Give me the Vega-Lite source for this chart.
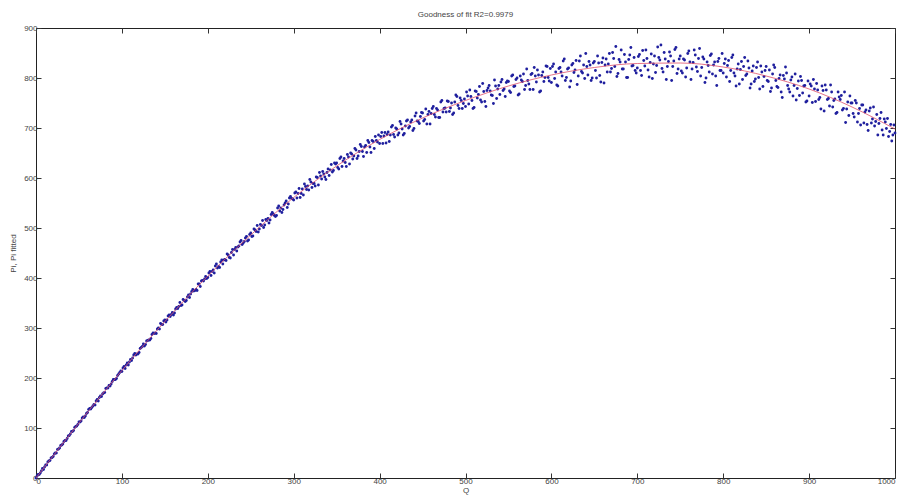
{
  "$schema": "https://vega.github.io/schema/vega-lite/v6.json",
  "autosize": "none",
  "width": 859,
  "height": 450,
  "padding": {"left": 36, "top": 28, "right": 3, "bottom": 20},
  "background": "white",
  "title": {"text": "Goodness of fit R2=0.9979", "fontSize": 8, "font": "Liberation Sans", "fontWeight": "normal", "color": "#444", "offset": 5},
  "datasets": {
    "pts": [
      {"q":0,"p":0},{"q":2.5,"p":7},{"q":5,"p":10},{"q":7.5,"p":19},{"q":10,"p":22},{"q":12.5,"p":26},{"q":15,"p":34},{"q":17.5,"p":40},{"q":20,"p":43},{"q":22.5,"p":50},
      {"q":25,"p":57},{"q":27.5,"p":60},{"q":30,"p":66},{"q":32.5,"p":73},{"q":35,"p":75},{"q":37.5,"p":84},{"q":40,"p":88},{"q":42.5,"p":93},{"q":45,"p":101},{"q":47.5,"p":104},
      {"q":50,"p":112},{"q":52.5,"p":114},{"q":55,"p":122},{"q":57.5,"p":124},{"q":60,"p":131},{"q":62.5,"p":139},{"q":65,"p":141},{"q":67.5,"p":147},{"q":70,"p":154},{"q":72.5,"p":154},
      {"q":75,"p":164},{"q":77.5,"p":168},{"q":80,"p":171},{"q":82.5,"p":180},{"q":85,"p":185},{"q":87.5,"p":188},{"q":90,"p":197},{"q":92.5,"p":197},{"q":95,"p":205},{"q":97.5,"p":211},
      {"q":100,"p":213},{"q":102.5,"p":223},{"q":105,"p":226},{"q":107.5,"p":226},{"q":110,"p":237},{"q":112.5,"p":240},{"q":115,"p":249},{"q":117.5,"p":248},{"q":120,"p":251},{"q":122.5,"p":261},
      {"q":125,"p":268},{"q":127.5,"p":267},{"q":130,"p":275},{"q":132.5,"p":276},{"q":135,"p":287},{"q":137.5,"p":289},{"q":140,"p":289},{"q":142.5,"p":300},{"q":145,"p":309},{"q":147.5,"p":307},
      {"q":150,"p":316},{"q":152.5,"p":316},{"q":155,"p":326},{"q":157.5,"p":327},{"q":160,"p":326},{"q":162.5,"p":338},{"q":165,"p":339},{"q":167.5,"p":351},{"q":170,"p":346},{"q":172.5,"p":355},
      {"q":175,"p":355},{"q":177.5,"p":366},{"q":180,"p":368},{"q":182.5,"p":377},{"q":185,"p":375},{"q":187.5,"p":375},{"q":190,"p":388},{"q":192.5,"p":394},{"q":195,"p":394},{"q":197.5,"p":403},
      {"q":200,"p":401},{"q":202.5,"p":413},{"q":205,"p":413},{"q":207.5,"p":410},{"q":210,"p":428},{"q":212.5,"p":423},{"q":215,"p":432},{"q":217.5,"p":428},{"q":220,"p":437},{"q":222.5,"p":448},
      {"q":225,"p":441},{"q":227.5,"p":451},{"q":230,"p":446},{"q":232.5,"p":461},{"q":235,"p":462},{"q":237.5,"p":472},{"q":240,"p":467},{"q":242.5,"p":473},{"q":245,"p":483},{"q":247.5,"p":476},
      {"q":250,"p":490},{"q":252.5,"p":484},{"q":255,"p":496},{"q":257.5,"p":505},{"q":260,"p":498},{"q":262.5,"p":505},{"q":265,"p":501},{"q":267.5,"p":517},{"q":270,"p":519},{"q":272.5,"p":516},
      {"q":275,"p":531},{"q":277.5,"p":525},{"q":280,"p":525},{"q":282.5,"p":544},{"q":285,"p":540},{"q":287.5,"p":537},{"q":290,"p":550},{"q":292.5,"p":541},{"q":295,"p":560},{"q":297.5,"p":559},
      {"q":300,"p":556},{"q":302.5,"p":572},{"q":305,"p":569},{"q":307.5,"p":561},{"q":310,"p":578},{"q":312.5,"p":588},{"q":315,"p":577},{"q":317.5,"p":576},{"q":320,"p":592},{"q":322.5,"p":589},
      {"q":325,"p":584},{"q":327.5,"p":601},{"q":330,"p":611},{"q":332.5,"p":598},{"q":335,"p":608},{"q":337.5,"p":597},{"q":340,"p":618},{"q":342.5,"p":616},{"q":345,"p":612},{"q":347.5,"p":630},
      {"q":350,"p":630},{"q":352.5,"p":618},{"q":355,"p":642},{"q":357.5,"p":634},{"q":360,"p":631},{"q":362.5,"p":647},{"q":365,"p":628},{"q":367.5,"p":648},{"q":370,"p":644},{"q":372.5,"p":656},
      {"q":375,"p":644},{"q":377.5,"p":667},{"q":380,"p":653},{"q":382.5,"p":662},{"q":385,"p":651},{"q":387.5,"p":671},{"q":390,"p":651},{"q":392.5,"p":673},{"q":395,"p":683},{"q":397.5,"p":672},
      {"q":400,"p":669},{"q":402.5,"p":691},{"q":405,"p":684},{"q":407.5,"p":670},{"q":410,"p":692},{"q":412.5,"p":686},{"q":415,"p":705},{"q":417.5,"p":682},{"q":420,"p":698},{"q":422.5,"p":690},
      {"q":425,"p":708},{"q":427.5,"p":686},{"q":430,"p":704},{"q":432.5,"p":716},{"q":435,"p":703},{"q":437.5,"p":716},{"q":440,"p":699},{"q":442.5,"p":730},{"q":445,"p":713},{"q":447.5,"p":723},
      {"q":450,"p":730},{"q":452.5,"p":717},{"q":455,"p":708},{"q":457.5,"p":733},{"q":460,"p":729},{"q":462.5,"p":743},{"q":465,"p":722},{"q":467.5,"p":736},{"q":470,"p":721},{"q":472.5,"p":755},
      {"q":475,"p":739},{"q":477.5,"p":732},{"q":480,"p":753},{"q":482.5,"p":740},{"q":485,"p":727},{"q":487.5,"p":752},{"q":490,"p":763},{"q":492.5,"p":739},{"q":495,"p":755},{"q":497.5,"p":749},
      {"q":500,"p":743},{"q":502.5,"p":764},{"q":505,"p":776},{"q":507.5,"p":755},{"q":510,"p":741},{"q":512.5,"p":773},{"q":515,"p":767},{"q":517.5,"p":756},{"q":520,"p":789},{"q":522.5,"p":753},
      {"q":525,"p":775},{"q":527.5,"p":785},{"q":530,"p":766},{"q":532.5,"p":749},{"q":535,"p":784},{"q":537.5,"p":778},{"q":540,"p":767},{"q":542.5,"p":797},{"q":545,"p":778},{"q":547.5,"p":791},
      {"q":550,"p":793},{"q":552.5,"p":771},{"q":555,"p":806},{"q":557.5,"p":784},{"q":560,"p":800},{"q":562.5,"p":768},{"q":565,"p":796},{"q":567.5,"p":808},{"q":570,"p":785},{"q":572.5,"p":795},
      {"q":575,"p":777},{"q":577.5,"p":809},{"q":580,"p":821},{"q":582.5,"p":792},{"q":585,"p":806},{"q":587.5,"p":774},{"q":590,"p":812},{"q":592.5,"p":801},{"q":595,"p":823},{"q":597.5,"p":794},
      {"q":600,"p":791},{"q":602.5,"p":828},{"q":605,"p":812},{"q":607.5,"p":784},{"q":610,"p":821},{"q":612.5,"p":804},{"q":615,"p":838},{"q":617.5,"p":801},{"q":620,"p":820},{"q":622.5,"p":794},
      {"q":625,"p":829},{"q":627.5,"p":816},{"q":630,"p":787},{"q":632.5,"p":834},{"q":635,"p":813},{"q":637.5,"p":826},{"q":640,"p":849},{"q":642.5,"p":806},{"q":645,"p":826},{"q":647.5,"p":800},
      {"q":650,"p":833},{"q":652.5,"p":800},{"q":655,"p":830},{"q":657.5,"p":792},{"q":660,"p":840},{"q":662.5,"p":826},{"q":665,"p":812},{"q":667.5,"p":849},{"q":670,"p":819},{"q":672.5,"p":839},
      {"q":675,"p":863},{"q":677.5,"p":809},{"q":680,"p":832},{"q":682.5,"p":818},{"q":685,"p":847},{"q":687.5,"p":801},{"q":690,"p":837},{"q":692.5,"p":861},{"q":695,"p":825},{"q":697.5,"p":815},
      {"q":700,"p":820},{"q":702.5,"p":847},{"q":705,"p":805},{"q":707.5,"p":835},{"q":710,"p":856},{"q":712.5,"p":816},{"q":715,"p":831},{"q":717.5,"p":799},{"q":720,"p":844},{"q":722.5,"p":825},
      {"q":725,"p":841},{"q":727.5,"p":866},{"q":730,"p":812},{"q":732.5,"p":838},{"q":735,"p":823},{"q":737.5,"p":852},{"q":740,"p":795},{"q":742.5,"p":834},{"q":745,"p":861},{"q":747.5,"p":818},
      {"q":750,"p":844},{"q":752.5,"p":810},{"q":755,"p":836},{"q":757.5,"p":820},{"q":760,"p":854},{"q":762.5,"p":797},{"q":765,"p":831},{"q":767.5,"p":846},{"q":770,"p":813},{"q":772.5,"p":859},
      {"q":775,"p":821},{"q":777.5,"p":838},{"q":780,"p":800},{"q":782.5,"p":825},{"q":785,"p":845},{"q":787.5,"p":808},{"q":790,"p":832},{"q":792.5,"p":785},{"q":795,"p":839},{"q":797.5,"p":815},
      {"q":800,"p":810},{"q":802.5,"p":838},{"q":805,"p":825},{"q":807.5,"p":793},{"q":810,"p":841},{"q":812.5,"p":810},{"q":815,"p":784},{"q":817.5,"p":828},{"q":820,"p":817},{"q":822.5,"p":797},
      {"q":825,"p":841},{"q":827.5,"p":808},{"q":830,"p":820},{"q":832.5,"p":788},{"q":835,"p":824},{"q":837.5,"p":798},{"q":840,"p":832},{"q":842.5,"p":778},{"q":845,"p":812},{"q":847.5,"p":803},
      {"q":850,"p":823},{"q":852.5,"p":793},{"q":855,"p":773},{"q":857.5,"p":808},{"q":860,"p":821},{"q":862.5,"p":783},{"q":865,"p":799},{"q":867.5,"p":772},{"q":870,"p":805},{"q":872.5,"p":822},
      {"q":875,"p":785},{"q":877.5,"p":772},{"q":880,"p":802},{"q":882.5,"p":785},{"q":885,"p":756},{"q":887.5,"p":794},{"q":890,"p":803},{"q":892.5,"p":770},{"q":895,"p":785},{"q":897.5,"p":754},
      {"q":900,"p":764},{"q":902.5,"p":784},{"q":905,"p":797},{"q":907.5,"p":753},{"q":910,"p":776},{"q":912.5,"p":761},{"q":915,"p":784},{"q":917.5,"p":734},{"q":920,"p":776},{"q":922.5,"p":759},
      {"q":925,"p":786},{"q":927.5,"p":742},{"q":930,"p":758},{"q":932.5,"p":731},{"q":935,"p":762},{"q":937.5,"p":765},{"q":940,"p":739},{"q":942.5,"p":711},{"q":945,"p":752},{"q":947.5,"p":764},
      {"q":950,"p":750},{"q":952.5,"p":722},{"q":955,"p":750},{"q":957.5,"p":729},{"q":960,"p":706},{"q":962.5,"p":746},{"q":965,"p":732},{"q":967.5,"p":707},{"q":970,"p":734},{"q":972.5,"p":710},
      {"q":975,"p":742},{"q":977.5,"p":713},{"q":980,"p":686},{"q":982.5,"p":719},{"q":985,"p":696},{"q":987.5,"p":718},{"q":990,"p":699},{"q":992.5,"p":683},{"q":995,"p":707},{"q":997.5,"p":686},
      {"q":1000,"p":690},
      {"q":1.25,"p":4},{"q":3.75,"p":7},{"q":6.25,"p":14},{"q":8.75,"p":17},{"q":11.25,"p":26},{"q":13.75,"p":32},{"q":16.25,"p":35},{"q":18.75,"p":41},{"q":21.25,"p":48},{"q":23.75,"p":50},
      {"q":26.25,"p":58},{"q":28.75,"p":65},{"q":31.25,"p":68},{"q":33.75,"p":75},{"q":36.25,"p":79},{"q":38.75,"p":85},{"q":41.25,"p":93},{"q":43.75,"p":95},{"q":46.25,"p":103},{"q":48.75,"p":107},
      {"q":51.25,"p":112},{"q":53.75,"p":120},{"q":56.25,"p":121},{"q":58.75,"p":129},{"q":61.25,"p":137},{"q":63.75,"p":138},{"q":66.25,"p":144},{"q":68.75,"p":146},{"q":71.25,"p":157},{"q":73.75,"p":161},
      {"q":76.25,"p":163},{"q":78.75,"p":170},{"q":81.25,"p":179},{"q":83.75,"p":180},{"q":86.25,"p":184},{"q":88.75,"p":193},{"q":91.25,"p":197},{"q":93.75,"p":199},{"q":96.25,"p":208},{"q":98.75,"p":214},
      {"q":101.25,"p":220},{"q":103.75,"p":219},{"q":106.25,"p":230},{"q":108.75,"p":232},{"q":111.25,"p":235},{"q":113.75,"p":246},{"q":116.25,"p":246},{"q":118.75,"p":248},{"q":121.25,"p":259},{"q":123.75,"p":263},
      {"q":126.25,"p":264},{"q":128.75,"p":274},{"q":131.25,"p":276},{"q":133.75,"p":279},{"q":136.25,"p":290},{"q":138.75,"p":290},{"q":141.25,"p":298},{"q":143.75,"p":298},{"q":146.25,"p":307},{"q":148.75,"p":314},
      {"q":151.25,"p":312},{"q":153.75,"p":324},{"q":156.25,"p":323},{"q":158.75,"p":331},{"q":161.25,"p":330},{"q":163.75,"p":341},{"q":166.25,"p":343},{"q":168.75,"p":345},{"q":171.25,"p":357},{"q":173.75,"p":353},
      {"q":176.25,"p":362},{"q":178.75,"p":361},{"q":181.25,"p":373},{"q":183.75,"p":374},{"q":186.25,"p":377},{"q":188.75,"p":388},{"q":191.25,"p":383},{"q":193.75,"p":395},{"q":196.25,"p":398},{"q":198.75,"p":399},
      {"q":201.25,"p":410},{"q":203.75,"p":405},{"q":206.25,"p":416},{"q":208.75,"p":424},{"q":211.25,"p":420},{"q":213.75,"p":421},{"q":216.25,"p":436},{"q":218.75,"p":436},{"q":221.25,"p":435},{"q":223.75,"p":446},
      {"q":226.25,"p":440},{"q":228.75,"p":457},{"q":231.25,"p":457},{"q":233.75,"p":454},{"q":236.25,"p":464},{"q":238.75,"p":475},{"q":241.25,"p":470},{"q":243.75,"p":480},{"q":246.25,"p":474},{"q":248.75,"p":487},
      {"q":251.25,"p":483},{"q":253.75,"p":498},{"q":256.25,"p":493},{"q":258.75,"p":492},{"q":261.25,"p":507},{"q":263.75,"p":515},{"q":266.25,"p":506},{"q":268.75,"p":515},{"q":271.25,"p":510},{"q":273.75,"p":527},
      {"q":276.25,"p":528},{"q":278.75,"p":523},{"q":281.25,"p":540},{"q":283.75,"p":534},{"q":286.25,"p":531},{"q":288.75,"p":546},{"q":291.25,"p":554},{"q":293.75,"p":548},{"q":296.25,"p":563},{"q":298.75,"p":558},
      {"q":301.25,"p":570},{"q":303.75,"p":560},{"q":306.25,"p":579},{"q":308.75,"p":569},{"q":311.25,"p":566},{"q":313.75,"p":583},{"q":316.25,"p":584},{"q":318.75,"p":597},{"q":321.25,"p":581},{"q":323.75,"p":589},
      {"q":326.25,"p":602},{"q":328.75,"p":586},{"q":331.25,"p":604},{"q":333.75,"p":613},{"q":336.25,"p":602},{"q":338.75,"p":611},{"q":341.25,"p":605},{"q":343.75,"p":627},{"q":346.25,"p":615},{"q":348.75,"p":628},
      {"q":351.25,"p":621},{"q":353.75,"p":639},{"q":356.25,"p":623},{"q":358.75,"p":639},{"q":361.25,"p":623},{"q":363.75,"p":642},{"q":366.25,"p":650},{"q":368.75,"p":638},{"q":371.25,"p":659},{"q":373.75,"p":639},
      {"q":376.25,"p":653},{"q":378.75,"p":663},{"q":381.25,"p":643},{"q":383.75,"p":665},{"q":386.25,"p":675},{"q":388.75,"p":662},{"q":391.25,"p":675},{"q":393.75,"p":659},{"q":396.25,"p":675},{"q":398.75,"p":686},
      {"q":401.25,"p":683},{"q":403.75,"p":669},{"q":406.25,"p":691},{"q":408.75,"p":687},{"q":411.25,"p":673},{"q":413.75,"p":702},{"q":416.25,"p":687},{"q":418.75,"p":700},{"q":421.25,"p":686},{"q":423.75,"p":713},
      {"q":426.25,"p":698},{"q":428.75,"p":689},{"q":431.25,"p":714},{"q":433.75,"p":700},{"q":436.25,"p":712},{"q":438.75,"p":695},{"q":441.25,"p":724},{"q":443.75,"p":714},{"q":446.25,"p":709},{"q":448.75,"p":731},
      {"q":451.25,"p":714},{"q":453.75,"p":738},{"q":456.25,"p":727},{"q":458.75,"p":708},{"q":461.25,"p":739},{"q":463.75,"p":727},{"q":466.25,"p":739},{"q":468.75,"p":721},{"q":471.25,"p":752},{"q":473.75,"p":732},
      {"q":476.25,"p":740},{"q":478.75,"p":754},{"q":481.25,"p":733},{"q":483.75,"p":750},{"q":486.25,"p":730},{"q":488.75,"p":766},{"q":491.25,"p":745},{"q":493.75,"p":760},{"q":496.25,"p":739},{"q":498.75,"p":758},
      {"q":501.25,"p":772},{"q":503.75,"p":748},{"q":506.25,"p":763},{"q":508.75,"p":739},{"q":511.25,"p":774},{"q":513.75,"p":760},{"q":516.25,"p":783},{"q":518.75,"p":752},{"q":521.25,"p":773},{"q":523.75,"p":743},
      {"q":526.25,"p":780},{"q":528.75,"p":774},{"q":531.25,"p":765},{"q":533.75,"p":796},{"q":536.25,"p":759},{"q":538.75,"p":785},{"q":541.25,"p":792},{"q":543.75,"p":775},{"q":546.25,"p":763},{"q":548.75,"p":794},
      {"q":551.25,"p":774},{"q":553.75,"p":804},{"q":556.25,"p":783},{"q":558.75,"p":797},{"q":561.25,"p":766},{"q":563.75,"p":804},{"q":566.25,"p":793},{"q":568.75,"p":777},{"q":571.25,"p":818},{"q":573.75,"p":788},
      {"q":576.25,"p":807},{"q":578.75,"p":777},{"q":581.25,"p":804},{"q":583.75,"p":816},{"q":586.25,"p":772},{"q":588.75,"p":805},{"q":591.25,"p":793},{"q":593.75,"p":824},{"q":596.25,"p":801},{"q":598.75,"p":819},
      {"q":601.25,"p":823},{"q":603.75,"p":799},{"q":606.25,"p":786},{"q":608.75,"p":819},{"q":611.25,"p":812},{"q":613.75,"p":834},{"q":616.25,"p":795},{"q":618.75,"p":818},{"q":621.25,"p":782},{"q":623.75,"p":826},
      {"q":626.25,"p":811},{"q":628.75,"p":835},{"q":631.25,"p":804},{"q":633.75,"p":844},{"q":636.25,"p":810},{"q":638.75,"p":799},{"q":641.25,"p":823},{"q":643.75,"p":833},{"q":646.25,"p":795},{"q":648.75,"p":830},
      {"q":651.25,"p":815},{"q":653.75,"p":844},{"q":656.25,"p":805},{"q":658.75,"p":831},{"q":661.25,"p":790},{"q":663.75,"p":838},{"q":666.25,"p":828},{"q":668.75,"p":812},{"q":671.25,"p":851},{"q":673.75,"p":823},
      {"q":676.25,"p":803},{"q":678.75,"p":837},{"q":681.25,"p":856},{"q":683.75,"p":818},{"q":686.25,"p":832},{"q":688.75,"p":801},{"q":691.25,"p":846},{"q":693.75,"p":824},{"q":696.25,"p":841},{"q":698.75,"p":810},
      {"q":701.25,"p":843},{"q":703.75,"p":815},{"q":706.25,"p":855},{"q":708.75,"p":824},{"q":711.25,"p":839},{"q":713.75,"p":802},{"q":716.25,"p":848},{"q":718.75,"p":828},{"q":721.25,"p":811},{"q":723.75,"p":862},
      {"q":726.25,"p":836},{"q":728.75,"p":819},{"q":731.25,"p":851},{"q":733.75,"p":797},{"q":736.25,"p":833},{"q":738.75,"p":844},{"q":741.25,"p":823},{"q":743.75,"p":857},{"q":746.25,"p":809},{"q":748.75,"p":838},
      {"q":751.25,"p":814},{"q":753.75,"p":838},{"q":756.25,"p":802},{"q":758.75,"p":849},{"q":761.25,"p":832},{"q":763.75,"p":818},{"q":766.25,"p":856},{"q":768.75,"p":822},{"q":771.25,"p":839},{"q":773.75,"p":804},
      {"q":776.25,"p":842},{"q":778.75,"p":791},{"q":781.25,"p":832},{"q":783.75,"p":812},{"q":786.25,"p":848},{"q":788.75,"p":826},{"q":791.25,"p":804},{"q":793.75,"p":833},{"q":796.25,"p":815},{"q":798.75,"p":849},
      {"q":801.25,"p":829},{"q":803.75,"p":802},{"q":806.25,"p":835},{"q":808.75,"p":815},{"q":811.25,"p":846},{"q":813.75,"p":804},{"q":816.25,"p":818},{"q":818.75,"p":788},{"q":821.25,"p":833},{"q":823.75,"p":823},
      {"q":826.25,"p":805},{"q":828.75,"p":834},{"q":831.25,"p":780},{"q":833.75,"p":814},{"q":836.25,"p":793},{"q":838.75,"p":821},{"q":841.25,"p":801},{"q":843.75,"p":824},{"q":846.25,"p":783},{"q":848.75,"p":815},
      {"q":851.25,"p":795},{"q":853.75,"p":816},{"q":856.25,"p":780},{"q":858.75,"p":826},{"q":861.25,"p":795},{"q":863.75,"p":781},{"q":866.25,"p":806},{"q":868.75,"p":761},{"q":871.25,"p":798},{"q":873.75,"p":810},
      {"q":876.25,"p":778},{"q":878.75,"p":796},{"q":881.25,"p":764},{"q":883.75,"p":808},{"q":886.25,"p":779},{"q":888.75,"p":765},{"q":891.25,"p":795},{"q":893.75,"p":784},{"q":896.25,"p":752},{"q":898.75,"p":794},
      {"q":901.25,"p":788},{"q":903.75,"p":751},{"q":906.25,"p":778},{"q":908.75,"p":789},{"q":911.25,"p":757},{"q":913.75,"p":738},{"q":916.25,"p":775},{"q":918.75,"p":786},{"q":921.25,"p":757},{"q":923.75,"p":744},
      {"q":926.25,"p":772},{"q":928.75,"p":755},{"q":931.25,"p":729},{"q":933.75,"p":772},{"q":936.25,"p":757},{"q":938.75,"p":736},{"q":941.25,"p":772},{"q":943.75,"p":738},{"q":946.25,"p":725},{"q":948.75,"p":750},
      {"q":951.25,"p":729},{"q":953.75,"p":755},{"q":956.25,"p":712},{"q":958.75,"p":739},{"q":961.25,"p":746},{"q":963.75,"p":710},{"q":966.25,"p":736},{"q":968.75,"p":695},{"q":971.25,"p":740},{"q":973.75,"p":718},
      {"q":976.25,"p":704},{"q":978.75,"p":727},{"q":981.25,"p":709},{"q":983.75,"p":731},{"q":986.25,"p":686},{"q":988.75,"p":712},{"q":991.25,"p":719},{"q":993.75,"p":693},{"q":996.25,"p":674},{"q":998.75,"p":706}
    ],
    "fit": [
      {"q":0,"p":0},{"q":50,"p":110},{"q":100,"p":215},{"q":150,"p":313},{"q":200,"p":404},{"q":250,"p":486},{"q":300,"p":561},{"q":350,"p":624},{"q":400,"p":677},{"q":450,"p":720},
      {"q":500,"p":755},{"q":550,"p":784},{"q":600,"p":806},{"q":650,"p":821},{"q":700,"p":829},{"q":750,"p":830},{"q":800,"p":822},{"q":850,"p":804},{"q":900,"p":778},{"q":950,"p":742},{"q":1000,"p":698}
    ]
  },
  "layer": [
    {
      "data": {"name": "pts"},
      "mark": {"type": "point", "filled": true, "size": 8, "color": "#1f1f9e", "opacity": 1},
      "encoding": {
        "x": {"field": "q", "type": "quantitative", "scale": {"domain": [0, 1000], "nice": false, "zero": false},
              "axis": {"orient": "bottom", "values": [0,100,200,300,400,500,600,700,800,900,1000], "format": "d", "title": "Q", "grid": false, "domain": false,
                       "tickSize": -5, "tickColor": "#333", "labelPadding": 4, "labelFontSize": 8, "labelFont": "Liberation Sans", "labelColor": "#444",
                       "titleFontSize": 8, "titleFont": "Liberation Sans", "titleFontWeight": "normal", "titleColor": "#444", "titlePadding": 1}},
        "y": {"field": "p", "type": "quantitative", "scale": {"domain": [0, 900], "nice": false},
              "axis": {"orient": "left", "values": [0,100,200,300,400,500,600,700,800,900], "format": "d", "title": "Pi, Pi fitted", "grid": false, "domain": false,
                       "tickSize": -5, "tickColor": "#333", "labelPadding": 4, "labelFontSize": 8, "labelFont": "Liberation Sans", "labelColor": "#444",
                       "titleFontSize": 8, "titleFont": "Liberation Sans", "titleFontWeight": "normal", "titleColor": "#444", "titlePadding": 6}}
      }
    },
    {
      "data": {"name": "fit"},
      "mark": {"type": "line", "color": "#e0506a", "strokeWidth": 1, "interpolate": "monotone", "opacity": 0.8},
      "encoding": {
        "x": {"field": "q", "type": "quantitative", "scale": {"domain": [0, 1000], "nice": false, "zero": false},
              "axis": {"orient": "top", "values": [0,100,200,300,400,500,600,700,800,900,1000], "title": null, "labels": false, "grid": false, "domain": false, "tickSize": -5, "tickColor": "#333"}},
        "y": {"field": "p", "type": "quantitative", "scale": {"domain": [0, 900], "nice": false},
              "axis": {"orient": "right", "values": [0,100,200,300,400,500,600,700,800,900], "title": null, "labels": false, "grid": false, "domain": false, "tickSize": -5, "tickColor": "#333"}}
      }
    }
  ],
  "resolve": {"axis": {"x": "independent", "y": "independent"}},
  "config": {"view": {"stroke": "#222", "strokeWidth": 1}}
}
